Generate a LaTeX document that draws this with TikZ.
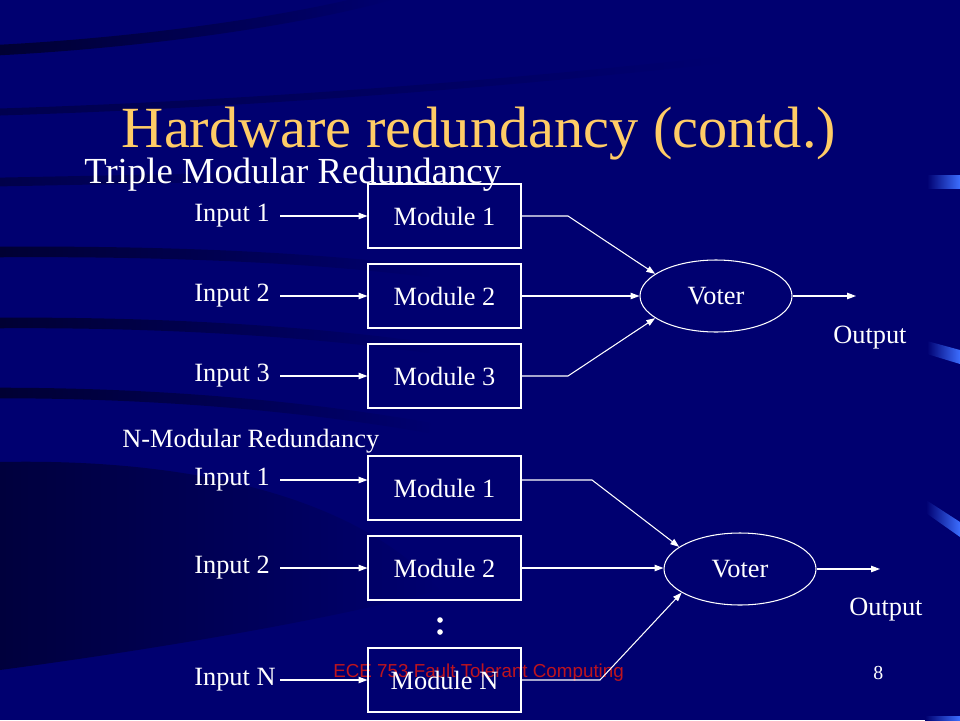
\documentclass[tikz,border=0pt]{standalone}
\usepackage{fontspec}
\setmainfont{Liberation Serif}
\newfontfamily\footfont{Liberation Sans}
\usepackage{color}
\definecolor{slidenavy}{RGB}{0,0,112}
\definecolor{titlegold}{RGB}{255,204,102}
\definecolor{footred}{RGB}{190,20,30}
\definecolor{barblue}{RGB}{60,110,255}
\usepackage{tikz}
\usetikzlibrary{shapes.geometric,arrows.meta,positioning,calc,fadings}
\tikzstyle{module}=[draw=white,line width=0.6pt,minimum width=3.06cm,minimum height=1.28cm,inner sep=0pt,text=white,font=\fontsize{15}{17}\selectfont]
\tikzstyle{voter}=[draw=white,ellipse,line width=0.6pt,minimum width=3.04cm,minimum height=1.44cm,inner sep=0pt,text=white,font=\fontsize{15}{17}\selectfont]
\tikzstyle{inlabel}=[text=white,inner sep=0pt,font=\fontsize{15}{17}\selectfont]
\tikzstyle{flow}=[draw=white,line width=0.6pt,-{Triangle[length=5pt,width=3.6pt]}]
\tikzstyle{swoosh}=[black,opacity=0.55,path fading=east]
\begin{document}
\begin{tikzpicture}[x=0.02cm,y=-0.02cm]
\useasboundingbox (0,0) rectangle (960,720);
\fill[slidenavy] (0,0) rectangle (960,720);
% background swooshes
\draw[swoosh,line width=6pt] (0,50) .. controls (150,42) and (300,20) .. (390,-5);
\draw[swoosh,line width=4pt,opacity=0.3] (0,112) .. controls (250,104) and (500,84) .. (720,60);
\draw[swoosh,line width=5pt,opacity=0.35] (0,182) .. controls (100,180) and (200,178) .. (300,176);
\draw[swoosh,line width=6pt] (0,252) .. controls (150,251) and (300,256) .. (430,272);
\draw[swoosh,line width=6pt] (0,323) .. controls (150,322) and (300,330) .. (430,348);
\draw[swoosh,line width=6pt] (0,393) .. controls (150,393) and (300,405) .. (430,428);
\fill[swoosh,opacity=0.45] (0,462) .. controls (200,458) and (360,500) .. (440,590)
  .. controls (330,620) and (150,650) .. (0,670) -- cycle;
% right edge bars
\shade[left color=slidenavy,right color=barblue] (927,175) rectangle (960,188);
\shade[left color=slidenavy,right color=barblue] (927,341) -- (960,350) -- (960,364) -- (927,354) -- cycle;
\shade[left color=slidenavy,right color=barblue] (926,500) -- (960,522) -- (960,537) -- (926,513) -- cycle;
\shade[left color=slidenavy,right color=barblue] (925,716) rectangle (960,720);
% footer
\node[anchor=base west,inner sep=0pt,text=footred,font=\footfont\fontsize{10.7}{12}\selectfont] (foot) at (333,677) {ECE 753 Fault Tolerant Computing};
\node[anchor=base west,inner sep=0pt,text=white,font=\fontsize{11.3}{13}\selectfont] (page) at (873,679) {8};
% titles
\node[anchor=base,inner sep=0pt,text=titlegold,font=\fontsize{33.2}{40}\selectfont] (title) at (479,147) {Hardware redundancy (contd.)};
\node[anchor=base west,inner sep=0pt,text=white,font=\fontsize{20.9}{25}\selectfont] (tmr) at (84,183) {Triple Modular Redundancy};
\node[anchor=base west,inner sep=0pt,text=white,font=\fontsize{15}{17}\selectfont] (nmr) at (122,447) {N-Modular Redundancy};
\coordinate (s) at (280,0);
% triple modular redundancy
\node[inlabel,anchor=west] (i1) at (194,216) {Input 1};
\node[inlabel,anchor=west] (i2) at (194,296) {Input 2};
\node[inlabel,anchor=west] (i3) at (194,376) {Input 3};
\node[module] (m1) at (444.5,216) {Module 1};
\node[module] (m2) at (444.5,296) {Module 2};
\node[module] (m3) at (444.5,376) {Module 3};
\node[voter] (vt) at (716,296) {Voter};
\node[inlabel,anchor=base west] (o1) at (833,343) {Output};
\coordinate (c1) at (568,216);
\coordinate (c3) at (568,376);
\coordinate (e1) at (856,296);
\draw[flow] (i1.west -| s) -- (i1.west -| m1.west);
\draw[flow] (i2.west -| s) -- (i2.west -| m2.west);
\draw[flow] (i3.west -| s) -- (i3.west -| m3.west);
\draw[flow] (m1.east) -- (c1) -- (vt.160);
\draw[flow] (m2.east) -- (vt.west);
\draw[flow] (m3.east) -- (c3) -- (vt.200);
\draw[flow] (vt) -- (e1);
% n-modular redundancy
\node[inlabel,anchor=west] (i4) at (194,480) {Input 1};
\node[inlabel,anchor=west] (i5) at (194,568) {Input 2};
\node[inlabel,anchor=west] (i6) at (194,680) {Input N};
\node[module] (m4) at (444.5,488) {Module 1};
\node[module] (m5) at (444.5,568) {Module 2};
\node[module] (m6) at (444.5,680) {Module N};
\fill[white] (440,620) circle[radius=1.6pt];
\fill[white] (440,632) circle[radius=1.6pt];
\node[voter] (vb) at (740,569) {Voter};
\node[inlabel,anchor=base west] (o2) at (849,615) {Output};
\coordinate (c4) at (592,480);
\coordinate (c6) at (600,680);
\coordinate (e2) at (880,569);
\draw[flow] (i4.west -| s) -- (i4.west -| m4.west);
\draw[flow] (i5.west -| s) -- (i5.west -| m5.west);
\draw[flow] (i6.west -| s) -- (i6.west -| m6.west);
\draw[flow] (c4 -| m4.east) -- (c4) -- (vb.160);
\draw[flow] (m5.east) -- (m5.east -| vb.west);
\draw[flow] (m6.east) -- (c6) -- (vb.202);
\draw[flow] (vb) -- (e2);
\end{tikzpicture}
\end{document}
